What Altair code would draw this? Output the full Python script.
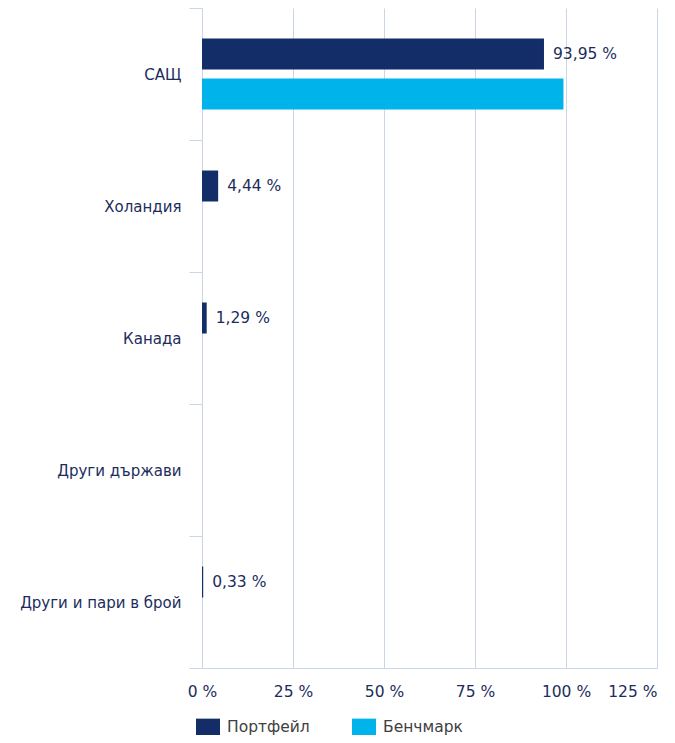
import altair as alt
import pandas as pd

countries = ["САЩ", "Холандия", "Канада", "Други държави", "Други и пари в брой"]
portfolio = [93.95, 4.44, 1.29, 0.0, 0.33]
benchmark = [99.3, 0.0, 0.0, 0.0, 0.0]
series = ["Портфейл", "Бенчмарк"]
colors = ["#132d69", "#00b4eb"]
x_ticks = [0, 25, 50, 75, 100, 125]

rows = []
for c, p, b in zip(countries, portfolio, benchmark):
    rows.append({"country": c, "series": series[0], "value": p,
                 "label": (f"{p:.2f}".replace(".", ",") + " %") if p > 0 else ""})
    rows.append({"country": c, "series": series[1], "value": b, "label": ""})
df = pd.DataFrame(rows)

NAVY = "#1c2d5c"
GRID = "#cad5e5"
FONT = "DejaVu Sans"

y_enc = alt.Y("country:N", sort=countries, title=None,
              scale=alt.Scale(paddingInner=0, paddingOuter=0),
              axis=alt.Axis(tickBand="extent", tickSize=13, tickColor=GRID,
                            domainColor=GRID, labelPadding=8, labelColor=NAVY,
                            labelFont=FONT, labelFontSize=15, labelLimit=300,
                            grid=False))
yoff = alt.YOffset("series:N", sort=series,
                   scale=alt.Scale(paddingInner=0.225, paddingOuter=0.7625))
x_enc = alt.X("value:Q", title=None,
              scale=alt.Scale(domain=[0, 125], nice=False),
              axis=alt.Axis(values=x_ticks, labelExpr="datum.value + ' %'",
                            ticks=False, labelPadding=16, labelColor=NAVY,
                            labelFont=FONT, labelFontSize=15.5,
                            labelAlign=alt.expr("datum.value >= 125 ? 'right' : 'center'"),
                            gridColor=GRID, domainColor=GRID, grid=True))

bars = alt.Chart(df).mark_bar(size=31).encode(
    x=x_enc, y=y_enc, yOffset=yoff,
    color=alt.Color("series:N", sort=series,
                    scale=alt.Scale(domain=series, range=colors),
                    legend=alt.Legend(title=None, orient="none", direction="horizontal",
                                      legendX=-3, legendY=710,
                                      symbolType="M-1.4,-1L1.4,-1L1.4,1L-1.4,1Z",
                                      symbolSize=294, symbolStrokeWidth=0,
                                      labelFont=FONT, labelFontSize=15.5,
                                      labelColor="#404040", columnPadding=41,
                                      labelOffset=10)),
)

labels = alt.Chart(df).mark_text(align="left", baseline="middle", dx=9,
                                 font=FONT, fontSize=15.5, color=NAVY).encode(
    x="value:Q", y=alt.Y("country:N", sort=countries), yOffset=yoff,
    text="label:N",
)

chart = alt.layer(bars, labels).properties(
    width=455, height=660,
    autosize=alt.AutoSizeParams(type="none"),
    padding={"left": 194, "top": 0, "right": 10, "bottom": 67},
).configure_view(stroke=None)

chart.save("out.html", embed_options={"renderer": "svg", "actions": False})
